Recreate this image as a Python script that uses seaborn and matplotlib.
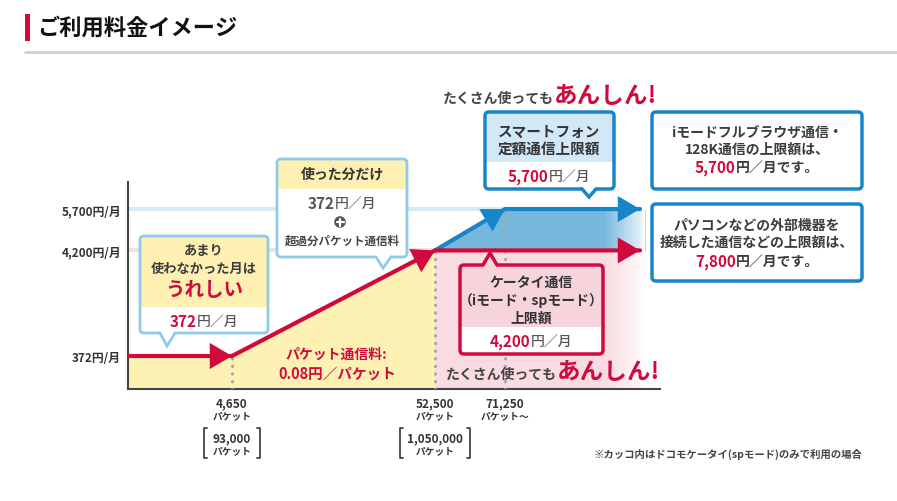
import matplotlib
matplotlib.use("Agg")
import matplotlib.pyplot as plt
import numpy as np
import seaborn as sns
from matplotlib.offsetbox import AnnotationBbox, HPacker, TextArea
from matplotlib.patches import Circle, FancyBboxPatch, Polygon, Rectangle

# --- data -------------------------------------------------------------
PACKETS = [0, 4650, 52500, 71250]        # break points, packets / month
PACKETS_SP = [93000, 1050000]            # same break points, spモード only
PACKET_END = 100000                      # where the arrows stop
BASE_FEE = 372
KEITAI_CAP = 4200
SMART_CAP = 5700
PC_CAP = 7800
Y_LABELS = ["372円/月", "4,200円/月", "5,700円/月"]
X_LABELS = ["4,650", "52,500", "71,250"]
X_UNITS = ["パケット", "パケット", "パケット～"]
SP_LABELS = ["93,000", "1,050,000"]
PACKET_RATE = "0.08"

# piecewise packet scale of the drawing (packets -> relative position)
SCALE_PACKETS = [0, 4650, 52500, 71250, 100000, 110000]
SCALE_POS = [0, 104, 307, 377, 512, 532]

RED = "#d20a3c"
BLUE = "#1785c7"
BLUE_FILL = "#76b7de"
YELLOW = "#fdf1b4"
PINK = "#f9dbe2"
PINK_HEAD = "#f7d3dc"
LIGHT_BLUE_BORDER = "#8fcbe9"
TXT = "#333333"
BODY = "#3c3c3c"
FONT = ["Noto Sans CJK JP", "DejaVu Sans"]

sns.set_style("white")
plt.rcParams["font.family"] = FONT

W, H = 897, 502
fig = plt.figure(figsize=(W / 100, H / 100), dpi=100)

# --- chart axes -------------------------------------------------------
Y_BOTTOM, Y_TOP = -824, 6680
ax = fig.add_axes([128 / W, 1 - 390 / H, 532 / W, 207 / H])
ax.set_xscale(
    "function",
    functions=(lambda v: np.interp(v, SCALE_PACKETS, SCALE_POS),
               lambda p: np.interp(p, SCALE_POS, SCALE_PACKETS)),
)
ax.set_xlim(0, SCALE_PACKETS[-1])
ax.set_ylim(Y_BOTTOM, Y_TOP)

# guide lines
ax.hlines(SMART_CAP, 0, PACKETS[3], color="#d6ebf8", lw=3, zorder=1)
ax.hlines(KEITAI_CAP, 0, PACKETS[2], color="#f9dde4", lw=3, zorder=1)

# fills
ax.fill_between(PACKETS[:3], Y_BOTTOM, [BASE_FEE, BASE_FEE, KEITAI_CAP],
                color=YELLOW, lw=0, zorder=1)
fade_end = 102500
ax.fill_between([PACKETS[2], fade_end], Y_BOTTOM, KEITAI_CAP,
                color=PINK, lw=0, zorder=1)
ax.fill_between([PACKETS[2], PACKETS[3], fade_end], KEITAI_CAP,
                [KEITAI_CAP, SMART_CAP, SMART_CAP], color=BLUE_FILL, lw=0, zorder=1)
xs = np.linspace(92500, fade_end, 21)
for i in range(20):
    ax.fill_between([xs[i], xs[i + 1]], Y_BOTTOM, SMART_CAP + 50,
                    color="white", alpha=(i + 1) / 20, lw=0, zorder=1.5)

# dotted break lines
ax.vlines(PACKETS[1:], Y_BOTTOM, [BASE_FEE, KEITAI_CAP, SMART_CAP],
          colors="#a5a5a5", lw=2.2, linestyles=(0, (0.1, 2.4)),
          capstyle="round", zorder=3)

# price lines
sns.lineplot(x=[0, PACKETS[1], PACKETS[2], PACKET_END],
             y=[BASE_FEE, BASE_FEE, KEITAI_CAP, KEITAI_CAP],
             color=RED, lw=3, ax=ax, zorder=5)
sns.lineplot(x=[PACKETS[2], PACKETS[3], PACKET_END],
             y=[KEITAI_CAP, SMART_CAP, SMART_CAP],
             color=BLUE, lw=3, ax=ax, zorder=4)


def head(p0, p1, color):
    ax.annotate("", xy=p1, xytext=p0, zorder=6,
                arrowprops=dict(arrowstyle="-|>,head_length=0.8,head_width=0.47",
                                mutation_scale=20, fc=color, ec=color, lw=0,
                                shrinkA=0, shrinkB=0))


head((0, BASE_FEE), (PACKETS[1], BASE_FEE), RED)
head((PACKETS[1], BASE_FEE), (PACKETS[2], KEITAI_CAP), RED)
head((PACKETS[2], KEITAI_CAP), (PACKET_END, KEITAI_CAP), RED)
head((PACKETS[2], KEITAI_CAP), (PACKETS[3], SMART_CAP), BLUE)
head((PACKETS[3], SMART_CAP), (PACKET_END, SMART_CAP), BLUE)

ax.set_xticks([])
ax.set_yticks([BASE_FEE, KEITAI_CAP, SMART_CAP], labels=Y_LABELS)
ax.tick_params(axis="y", length=0, pad=5, labelsize=8.5, labelcolor=TXT)
for t in ax.get_yticklabels():
    t.set_fontweight("bold")
for side in ["top", "right"]:
    ax.spines[side].set_visible(False)
for side in ["left", "bottom"]:
    ax.spines[side].set_color("#444444")
    ax.spines[side].set_linewidth(1.5)
    ax.spines[side].set_zorder(2.5)
ax.set_xlabel("")
ax.set_ylabel("")

# --- overlay in pixel coordinates --------------------------------------
ov = fig.add_axes([0, 0, 1, 1])
ov.set_xlim(0, W)
ov.set_ylim(H, 0)
ov.axis("off")


def px_x(packets):
    return ax.transData.transform((packets, 0))[0]


def txt(x, y, s, size=10, color=TXT, weight="bold", **kw):
    ov.text(x, y, s, fontsize=size, color=color, fontweight=weight, zorder=6,
            ha=kw.pop("ha", "center"), va=kw.pop("va", "center"), **kw)


def rich(x, y, parts):
    boxes = [TextArea(t, textprops=dict(color=c, fontsize=s, fontweight=w, family=FONT))
             for t, c, s, w in parts]
    pack = HPacker(children=boxes, align="baseline", pad=0, sep=0)
    ab = AnnotationBbox(pack, (x, y), xycoords="data", frameon=False,
                        box_alignment=(0.5, 0.5), pad=0)
    ab.set_zorder(6)
    ov.add_artist(ab)


def callout(x0, y0, x1, y1, border, lw, head_y=None, head_color=None,
            tip=None, base=None, tip_fill="white"):
    body = FancyBboxPatch((x0, y0), x1 - x0, y1 - y0,
                          boxstyle="round,pad=0,rounding_size=4",
                          fc="white", ec="none", zorder=3)
    ov.add_patch(body)
    if head_y is not None:
        hdr = Rectangle((x0, y0), x1 - x0, head_y - y0, fc=head_color, ec="none", zorder=3.1)
        ov.add_patch(hdr)
        hdr.set_clip_path(body)
    ov.add_patch(FancyBboxPatch((x0, y0), x1 - x0, y1 - y0,
                                boxstyle="round,pad=0,rounding_size=4",
                                fc="none", ec=border, lw=lw, zorder=3.2))
    if tip is not None:
        yb = y1 if tip[1] > y1 else y0
        inset = -2.5 if tip[1] > y1 else 2.5
        ov.add_patch(Polygon([(base[0], yb + inset), tip, (base[1], yb + inset)],
                             fc=tip_fill, ec="none", zorder=3.3))
        ov.plot([base[0], tip[0], base[1]], [yb, tip[1], yb], color=border,
                lw=lw, zorder=3.4, solid_joinstyle="miter")


# title
ov.add_patch(Rectangle((25, 15), 4.5, 27, fc=RED, ec="none"))
txt(37, 28, "ご利用料金イメージ", size=16, color="#111111", ha="left")
ov.plot([25, W], [53, 53], color="#cfcfcf", lw=2)

# left callout
callout(140, 237, 268, 334, LIGHT_BLUE_BORDER, 2, 308, "#fdf0b2", (167, 347), (160, 175))
txt(204, 251, "あまり", size=9.5, color=BODY)
txt(204, 269, "使わなかった月は", size=9.5, color=BODY)
txt(204, 291, "うれしい", size=14, color=RED)
rich(204, 322, [(str(BASE_FEE), RED, 11, "bold"), ("円／月", "#555555", 10, "medium")])

# second callout
callout(277, 160, 407, 258, LIGHT_BLUE_BORDER, 2, 190, "#fdf0b2", (383, 269), (376, 391))
txt(342, 175, "使った分だけ", size=10)
rich(342, 204, [(str(BASE_FEE), "#555555", 11, "bold"), ("円／月", "#555555", 10, "medium")])
ov.add_patch(Circle((340, 223), 5.8, fc="#555555", ec="none", zorder=4))
ov.plot([336.5, 343.5], [223, 223], color="white", lw=1.6, zorder=5)
ov.plot([340, 340], [219.5, 226.5], color="white", lw=1.6, zorder=5)
txt(342, 241, "超過分パケット通信料", size=8.3, color="#444444")

# smartphone callout
callout(485, 113, 614, 190, BLUE, 2.5, 163, "#d3e8f6", (589, 198), (582, 596))
txt(549, 132, "スマートフォン", size=10.5)
txt(549, 149, "定額通信上限額", size=10.5)
rich(549, 177, [(f"{SMART_CAP:,}", RED, 11, "bold"), ("円／月", "#555555", 10, "medium")])

# anshin texts
rich(550, 96, [("たくさん使っても", "#444444", 10, "bold"), ("あんしん!", RED, 17, "bold")])
rich(553, 372, [("たくさん使っても", "#444444", 10, "bold"), ("あんしん!", RED, 17, "bold")])

# right boxes
callout(652, 113, 862, 190, BLUE, 2.5)
txt(757, 133, "iモードフルブラウザ通信・", size=10, color=BODY)
txt(757, 150, "128K通信の上限額は、", size=10, color=BODY)
rich(757, 168, [(f"{SMART_CAP:,}", RED, 11, "bold"), ("円／月です。", BODY, 10, "bold")])

callout(652, 205, 862, 282, BLUE, 2.5)
txt(757, 226, "パソコンなどの外部機器を", size=10, color=BODY)
txt(757, 243, "接続した通信などの上限額は、", size=10, color=BODY)
rich(757, 262, [(f"{PC_CAP:,}", RED, 11, "bold"), ("円／月です。", BODY, 10, "bold")])

# keitai callout
callout(460, 266, 603, 355, RED, 2.5, 328, PINK_HEAD, (490, 254), (483, 497), tip_fill=PINK_HEAD)
txt(531, 283, "ケータイ通信", size=10)
txt(531, 301, "（iモード・spモード）", size=10)
txt(531, 319, "上限額", size=10)
rich(531, 342, [(f"{KEITAI_CAP:,}", RED, 11, "bold"), ("円／月", "#555555", 10, "medium")])

# packet rate
txt(336, 355, "パケット通信料:", size=10, color=RED)
txt(337, 374, f"{PACKET_RATE}円／パケット", size=10.5, color=RED)

# x labels
for p, lab, unit in zip(PACKETS[1:], X_LABELS, X_UNITS):
    xc = px_x(p)
    txt(xc, 404, lab, size=8.5, color=TXT)
    txt(xc, 416, unit, size=7, color=TXT)

for p, lab in zip(PACKETS[1:3], SP_LABELS):
    xc = px_x(p)
    txt(xc, 439, lab, size=8.5, color=TXT)
    txt(xc, 451, "パケット", size=7, color=TXT)
    half = 28 if len(lab) < 8 else 35
    ov.plot([xc - half + 3, xc - half, xc - half, xc - half + 3], [429, 429, 459, 459],
            color="#444444", lw=1.3)
    ov.plot([xc + half - 3, xc + half, xc + half, xc + half - 3], [429, 429, 459, 459],
            color="#444444", lw=1.3)

txt(862, 454, "※カッコ内はドコモケータイ(spモード)のみで利用の場合", size=7.5,
    color="#444444", ha="right")

fig.savefig("out.png", dpi=100)
